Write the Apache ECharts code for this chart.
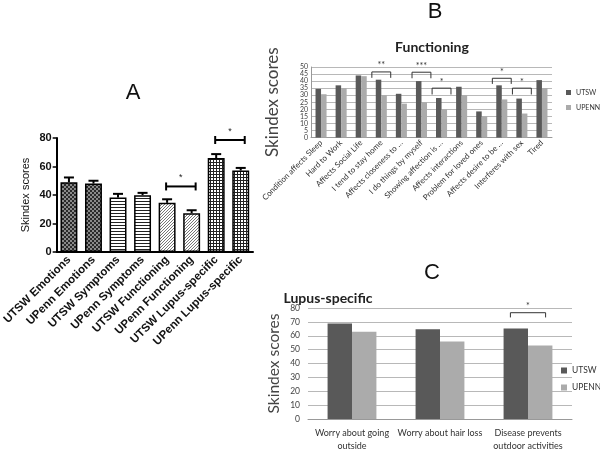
<!DOCTYPE html>
<html><head><meta charset="utf-8">
<script src="https://cdn.jsdelivr.net/npm/echarts@6/dist/echarts.min.js"></script>
<style>html,body{margin:0;padding:0;background:#fff}#c{width:600px;height:453px}</style>
</head><body><div id="c"></div>
<script>
// ---------- Panel A data ----------
const aCategories = ['UTSW Emotions','UPenn Emotions','UTSW Symptoms','UPenn Symptoms','UTSW Functioning','UPenn Functioning','UTSW Lupus-specific','UPenn Lupus-specific'];
const aValues = [49, 48, 38.2, 39.9, 34.5, 27.2, 65.9, 57.2];
const aErrorTops = [52.3, 50, 40.8, 41.5, 37, 29.3, 68.7, 59];
const aPatternKind = ['checker','checker','hlines','hlines','diag','diag','grid','grid'];
const aSig = [[4, 5, 46, '*'], [6, 7, 78.6, '*']];

// ---------- Panel B data ----------
const bCategories = ['Condition affects Sleep','Hard to Work','Affects Social Life','I tend to stay home','Affects closeness to …','I do things by myself','Showing affection is …','Affects interactions','Problem for loved ones','Affects desire to be …','Interferes with sex','Tired'];
const bUTSW  = [34.5, 37, 44, 41, 31, 40, 28, 36, 18.5, 37, 27.6, 40.7];
const bUPENN = [30.7, 35, 43.5, 30, 24, 25, 20, 30, 15, 27, 17, 35];
const bSig = [[3, 46.5, 42.3, '**'], [5, 46.3, 42, '***'], [6, 35, 30.5, '*'], [9, 42, 38, '*'], [10, 35, 30.5, '*']];

// ---------- Panel C data ----------
const cCategories = ['Worry about going\noutside','Worry about hair loss','Disease prevents\noutdoor activities'];
const cUTSW  = [68.9, 64.7, 65.2];
const cUPENN = [62.9, 55.9, 53];
const cSig = [[2, 76.6, 73.2, '*']];

const seriesNames = ['UTSW', 'UPENN'];

// ---------- patterns ----------
function makePattern(kind) {
  const cv = document.createElement('canvas');
  const s = kind === 'checker' ? 4 : 3;
  cv.width = s; cv.height = s;
  const g = cv.getContext('2d');
  g.fillStyle = '#ffffff'; g.fillRect(0, 0, s, s);
  if (kind === 'checker') {
    g.fillStyle = '#2a2a2a';
    g.fillRect(0, 0, 2, 2); g.fillRect(2, 2, 2, 2);
    g.fillStyle = '#8a8a8a';
    g.fillRect(2, 0, 2, 2); g.fillRect(0, 2, 2, 2);
  } else if (kind === 'hlines') {
    g.fillStyle = '#222'; g.fillRect(0, 0, s, 1);
  } else if (kind === 'diag') {
    g.fillStyle = '#777';
    for (let i = 0; i < s; i++) g.fillRect(i, s - 1 - i, 1, 1);
  } else if (kind === 'grid') {
    g.fillStyle = '#222'; g.fillRect(0, 0, s, 1); g.fillRect(0, 0, 1, s);
  }
  return { image: cv, repeat: 'repeat' };
}

const dark = '#595959', light = '#ababab';
const fontB = 'Lato, "Open Sans", sans-serif';
const fontA = '"Liberation Sans", Arial, sans-serif';

const chart = echarts.init(document.getElementById('c'), null, { renderer: 'canvas' });

function bracketRender(list, frac) {
  return function (params, api) {
    const item = list[params.dataIndex];
    const top = api.coord([api.value(0), api.value(1)]);
    const leg = api.coord([api.value(0), api.value(2)]);
    const hw = api.size([1, 0])[0] * frac;
    return {
      type: 'group',
      children: [
        { type: 'polyline', shape: { points: [[top[0] - hw, leg[1]], [top[0] - hw, top[1]], [top[0] + hw, top[1]], [top[0] + hw, leg[1]]] },
          style: { stroke: '#333', lineWidth: 1, fill: null } },
        { type: 'text', x: top[0], y: top[1] - 2,
          style: { text: item[3], font: '9px ' + fontB, fill: '#333', align: 'center', verticalAlign: 'bottom', textAlign: 'center', textVerticalAlign: 'bottom' } }
      ]
    };
  };
}

const option = {
  animation: false,
  backgroundColor: '#fff',
  graphic: [
    { type: 'text', x: 133, y: 93, style: { text: 'A', font: '22px ' + fontA, fill: '#111', align: 'center', verticalAlign: 'middle', textAlign: 'center', textVerticalAlign: 'middle' } },
    { type: 'text', x: 435, y: 12, style: { text: 'B', font: '22px ' + fontA, fill: '#111', align: 'center', verticalAlign: 'middle', textAlign: 'center', textVerticalAlign: 'middle' } },
    { type: 'text', x: 432, y: 273, style: { text: 'C', font: '22px ' + fontA, fill: '#111', align: 'center', verticalAlign: 'middle', textAlign: 'center', textVerticalAlign: 'middle' } },
    { type: 'text', x: 432, y: 47, style: { text: 'Functioning', font: 'bold 14px ' + fontB, fill: '#222', align: 'center', verticalAlign: 'middle', textAlign: 'center', textVerticalAlign: 'middle' } },
    { type: 'text', x: 328, y: 298, style: { text: 'Lupus-specific', font: 'bold 14px ' + fontB, fill: '#222', align: 'center', verticalAlign: 'middle', textAlign: 'center', textVerticalAlign: 'middle' } }
  ],
  legend: [
    { data: seriesNames, orient: 'vertical', left: 566, top: 89, itemWidth: 5, itemHeight: 5, itemGap: 8, padding: 0, icon: 'rect',
      textStyle: { fontSize: 7, fontFamily: fontB, color: '#333' } },
    { data: seriesNames, orient: 'vertical', left: 561, top: 366, itemWidth: 6, itemHeight: 6, itemGap: 8, padding: 0, icon: 'rect',
      textStyle: { fontSize: 8.5, fontFamily: fontB, color: '#333' } }
  ],
  grid: [
    { left: 46, top: 138, width: 207, height: 114 },
    { left: 311, top: 67, width: 241, height: 70.5 },
    { left: 308, top: 308, width: 264, height: 119 }
  ],
  xAxis: [
    { type: 'category', gridIndex: 0, data: aCategories,
      axisLine: { lineStyle: { color: '#000', width: 2 } },
      axisTick: { alignWithLabel: true, length: 4, lineStyle: { color: '#000', width: 1.5 } },
      axisLabel: { interval: 0, rotate: 45, fontSize: 11.5, fontWeight: 'bold', fontFamily: fontA, color: '#111', margin: 6 } },
    { type: 'category', gridIndex: 1, data: bCategories,
      axisLine: { lineStyle: { color: '#999', width: 1 } },
      axisTick: { show: false },
      axisLabel: { interval: 0, rotate: 45, fontSize: 8, fontFamily: fontB, color: '#333', margin: 4 } },
    { type: 'category', gridIndex: 2, data: cCategories,
      axisLine: { lineStyle: { color: '#999', width: 1 } },
      axisTick: { show: false },
      axisLabel: { interval: 0, fontSize: 9, fontFamily: fontB, color: '#333', margin: 8, lineHeight: 13 } }
  ],
  yAxis: [
    { type: 'value', gridIndex: 0, min: 0, max: 80, interval: 20,
      name: 'Skindex scores', nameLocation: 'middle', nameGap: 25,
      nameTextStyle: { fontSize: 11, fontFamily: fontA, color: '#111' },
      axisLine: { show: true, lineStyle: { color: '#000', width: 2 } },
      axisTick: { show: true, length: 4, lineStyle: { color: '#000', width: 1.5 } },
      splitLine: { show: false },
      axisLabel: { fontSize: 11, fontWeight: 'bold', fontFamily: fontA, color: '#111', margin: 5 } },
    { type: 'value', gridIndex: 1, min: 0, max: 50, interval: 5,
      name: 'Skindex scores', nameLocation: 'middle', nameGap: 30,
      nameTextStyle: { fontSize: 17, fontFamily: fontB, color: '#444' },
      axisLine: { show: true, lineStyle: { color: '#999', width: 1 } },
      axisTick: { show: false },
      splitLine: { lineStyle: { color: '#b8b8b8', width: 1 } },
      axisLabel: { fontSize: 7, fontFamily: fontB, color: '#444', margin: 3 } },
    { type: 'value', gridIndex: 2, min: 0, max: 80, interval: 10,
      name: 'Skindex scores', nameLocation: 'middle', nameGap: 26,
      nameTextStyle: { fontSize: 15.5, fontFamily: fontB, color: '#444' },
      axisLine: { show: false },
      axisTick: { show: false },
      splitLine: { lineStyle: { color: '#b8b8b8', width: 1 } },
      axisLabel: { fontSize: 8.5, fontFamily: fontB, color: '#444', margin: 8 } }
  ],
  series: [
    { type: 'bar', name: 'A', xAxisIndex: 0, yAxisIndex: 0, barCategoryGap: '31%',
      data: aValues.map((v, i) => ({ value: v, itemStyle: { color: makePattern(aPatternKind[i]), borderColor: '#000', borderWidth: 1.5 } })),
      emphasis: { disabled: true }, z: 2 },
    { type: 'custom', name: 'Aerr', xAxisIndex: 0, yAxisIndex: 0,
      data: aValues.map((v, i) => [i, v, aErrorTops[i]]),
      encode: { x: 0, y: [1, 2] }, z: 3,
      renderItem: function (params, api) {
        const p0 = api.coord([api.value(0), api.value(1)]);
        const p1 = api.coord([api.value(0), api.value(2)]);
        return { type: 'group', children: [
          { type: 'line', shape: { x1: p0[0], y1: p0[1], x2: p1[0], y2: p1[1] }, style: { stroke: '#000', lineWidth: 2 } },
          { type: 'line', shape: { x1: p1[0] - 5, y1: p1[1], x2: p1[0] + 5, y2: p1[1] }, style: { stroke: '#000', lineWidth: 2 } }
        ] };
      } },
    { type: 'custom', name: 'Asig', xAxisIndex: 0, yAxisIndex: 0,
      data: aSig.map(s => [s[0], s[2], s[1]]),
      encode: { x: 0, y: 1 }, z: 3,
      renderItem: function (params, api) {
        const item = aSig[params.dataIndex];
        const p0 = api.coord([item[0], item[2]]);
        const p1 = api.coord([item[1], item[2]]);
        const x1 = p0[0] - 1, x2 = p1[0] + 4, y = p0[1];
        return { type: 'group', children: [
          { type: 'line', shape: { x1: x1, y1: y, x2: x2, y2: y }, style: { stroke: '#000', lineWidth: 2 } },
          { type: 'line', shape: { x1: x1, y1: y - 4, x2: x1, y2: y + 4 }, style: { stroke: '#000', lineWidth: 2 } },
          { type: 'line', shape: { x1: x2, y1: y - 4, x2: x2, y2: y + 4 }, style: { stroke: '#000', lineWidth: 2 } },
          { type: 'text', x: (x1 + x2) / 2, y: y - 4, style: { text: item[3], font: '9px ' + fontA, fill: '#222', align: 'center', verticalAlign: 'bottom', textAlign: 'center', textVerticalAlign: 'bottom' } }
        ] };
      } },
    { type: 'bar', name: 'UTSW', xAxisIndex: 1, yAxisIndex: 1, data: bUTSW, barGap: '0%', barCategoryGap: '45%',
      itemStyle: { color: dark }, emphasis: { disabled: true } },
    { type: 'bar', name: 'UPENN', xAxisIndex: 1, yAxisIndex: 1, data: bUPENN, barGap: '0%', barCategoryGap: '45%',
      itemStyle: { color: light }, emphasis: { disabled: true } },
    { type: 'custom', name: 'Bsig', xAxisIndex: 1, yAxisIndex: 1,
      data: bSig.map(s => [s[0], s[1], s[2]]), encode: { x: 0, y: 1 }, z: 5,
      renderItem: bracketRender(bSig, 0.47) },
    { type: 'bar', name: 'UTSW', xAxisIndex: 2, yAxisIndex: 2, data: cUTSW, barGap: '0%', barCategoryGap: '44.5%',
      itemStyle: { color: dark }, emphasis: { disabled: true } },
    { type: 'bar', name: 'UPENN', xAxisIndex: 2, yAxisIndex: 2, data: cUPENN, barGap: '0%', barCategoryGap: '44.5%',
      itemStyle: { color: light }, emphasis: { disabled: true } },
    { type: 'custom', name: 'Csig', xAxisIndex: 2, yAxisIndex: 2,
      data: cSig.map(s => [s[0], s[1], s[2]]), encode: { x: 0, y: 1 }, z: 5,
      renderItem: bracketRender(cSig, 0.2) }
  ]
};
chart.setOption(option);
</script>
</body></html>
